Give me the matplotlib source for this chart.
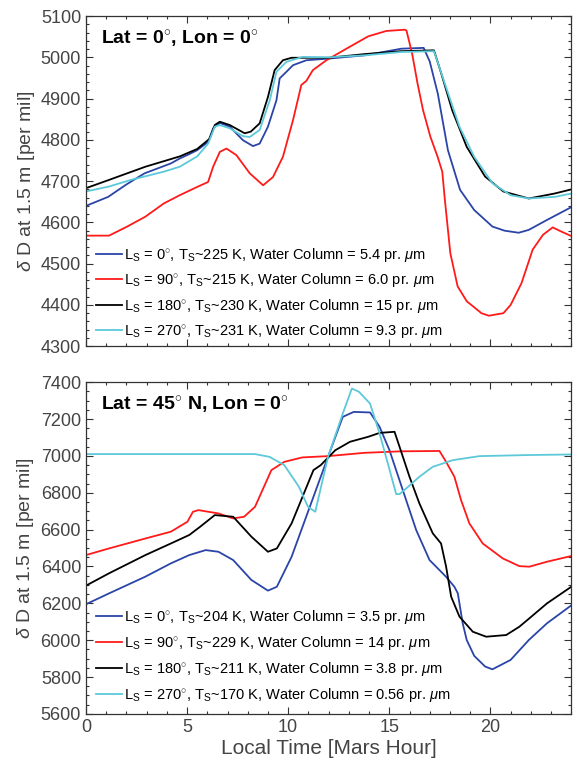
import matplotlib
matplotlib.use("Agg")
import matplotlib.pyplot as plt

plt.rcParams['font.family'] = ['Liberation Sans', 'DejaVu Sans']
plt.rcParams['mathtext.fontset'] = 'custom'
plt.rcParams['mathtext.rm'] = 'Liberation Sans'
plt.rcParams['mathtext.it'] = 'Liberation Sans:italic'
plt.rcParams['mathtext.bf'] = 'Liberation Sans:bold'

# ---- top panel: Lat = 0, Lon = 0 ----
top_x_ls0 = [0, 1.1, 2.0, 2.9, 4.2, 4.64, 5.0, 5.5, 6.04, 6.29, 6.62, 7.11, 7.77, 8.26, 8.59, 9.0, 9.42,
             9.58, 9.83, 10.24, 10.9, 12.0, 13.8, 15.6, 16.7, 17.0, 17.4, 17.9, 18.5, 19.2, 20.1, 20.7,
             21.4, 21.9, 22.8, 24]
top_y_ls0 = [4640, 4662, 4692, 4719, 4743, 4755, 4763, 4775, 4795, 4828, 4841, 4832, 4799, 4785, 4791, 4832,
             4896, 4949, 4961, 4981, 4993, 4997, 5005, 5021, 5023, 4990, 4912, 4775, 4679, 4630, 4590,
             4580, 4575, 4582, 4606, 4637]

top_x_ls90 = [0, 1.14, 2.04, 2.94, 3.85, 4.64, 5.5, 6.04, 6.29, 6.62, 6.95, 7.44, 8.1, 8.76, 9.25, 9.74,
              10.24, 10.65, 10.9, 11.22, 11.89, 12.88, 13.96, 14.86, 15.77, 15.85, 16.13, 16.4, 16.67,
              17.03, 17.39, 17.62, 17.75, 18.02, 18.38, 18.83, 19.56, 19.92, 20.64, 21.0, 21.54, 22.09,
              22.6, 23.08, 23.5, 24]
top_y_ls90 = [4568, 4568, 4590, 4614, 4646, 4666, 4686, 4698, 4735, 4771, 4779, 4763, 4719, 4690, 4710, 4759,
              4848, 4933, 4943, 4969, 4993, 5021, 5051, 5064, 5067, 5065, 5009, 4936, 4872,
              4808, 4759, 4723, 4654, 4525, 4445, 4409, 4380, 4374, 4380, 4400, 4453, 4534,
              4570, 4588, 4578, 4567]

top_x_ls180 = [0, 1.14, 2.94, 4.64, 5.5, 6.12, 6.37, 6.62, 7.11, 7.85, 8.15, 8.59, 9.0, 9.33, 9.74, 10.17,
               12.0, 13.8, 15.6, 17.21, 17.57, 18.11, 18.83, 19.74, 20.64, 21.9, 23.17, 24]
top_y_ls180 = [4683, 4703, 4735, 4760, 4778, 4803, 4836, 4844, 4836, 4816, 4820, 4840, 4904, 4969, 4993, 4999,
               4999, 5008, 5015, 5017, 4961, 4872, 4783, 4711, 4675, 4658, 4670, 4680]

top_x_ls270 = [0, 1.14, 2.22, 3.85, 4.64, 5.5, 6.04, 6.37, 6.62, 7.11, 7.77, 8.1, 8.59, 9.09, 9.42, 9.91,
               10.7, 12.0, 13.8, 15.6, 17.21, 17.75, 18.47, 19.2, 20.1, 21.0, 21.9, 23.2, 24]
top_y_ls270 = [4675, 4687, 4703, 4723, 4735, 4760, 4791, 4832, 4836, 4828, 4809, 4807, 4824, 4896, 4965, 4989,
               5001, 5000, 5005, 5013, 5015, 4936, 4832, 4759, 4695, 4666, 4658, 4662, 4670]

top_labels = [r'L$_\mathrm{S}$ = 0$^{\circ}$, T$_\mathrm{S}$~225 K, Water Column = 5.4 pr. $\mu$m',
              r'L$_\mathrm{S}$ = 90$^{\circ}$, T$_\mathrm{S}$~215 K, Water Column = 6.0 pr. $\mu$m',
              r'L$_\mathrm{S}$ = 180$^{\circ}$, T$_\mathrm{S}$~230 K, Water Column = 15 pr. $\mu$m',
              r'L$_\mathrm{S}$ = 270$^{\circ}$, T$_\mathrm{S}$~231 K, Water Column = 9.3 pr. $\mu$m']

# ---- bottom panel: Lat = 45 N, Lon = 0 ----
bot_x_ls0 = [0, 1.14, 2.94, 4.2, 5.11, 5.92, 6.55, 7.28, 8.18, 9.0, 9.44, 10.17, 11.07, 11.97, 12.7, 13.24,
             14.05, 14.52, 15.01, 15.67, 16.33, 16.99, 17.81, 18.22, 18.39, 18.63, 18.83, 19.2, 19.74, 20.1,
             21.0, 21.9, 22.8, 24]
bot_y_ls0 = [6195, 6254, 6345, 6417, 6462, 6489, 6480, 6435, 6327, 6269, 6290, 6453, 6724, 6995, 7212, 7239,
             7236, 7158, 7031, 6814, 6598, 6435, 6344, 6290, 6254, 6092, 6001, 5915, 5857, 5842,
             5893, 6001, 6092, 6189]

bot_x_ls90 = [0, 1.14, 2.94, 4.2, 5.02, 5.29, 5.56, 6.55, 7.28, 7.82, 8.36, 9.17, 9.81, 10.7, 11.97, 13.78,
              15.58, 17.48, 17.81, 18.22, 18.55, 18.96, 19.62, 20.61, 21.43, 21.93, 22.8, 24]
bot_y_ls90 = [6462, 6498, 6552, 6589, 6643, 6697, 6706, 6688, 6661, 6670, 6724, 6923, 6968, 6992, 6999, 7017,
              7025, 7027, 6968, 6887, 6760, 6634, 6525, 6444, 6402, 6399, 6426, 6457]

bot_x_ls180 = [0, 1.14, 2.94, 4.2, 5.11, 5.65, 6.37, 7.28, 8.18, 9.0, 9.44, 10.17, 11.25, 11.61, 12.33,
               13.06, 13.96, 14.52, 15.26, 15.51, 16.0, 16.49, 17.15, 17.56, 17.81, 18.06, 18.47, 19.13,
               19.79, 20.78, 21.43, 21.93, 22.8, 24]
bot_y_ls180 = [6296, 6363, 6462, 6525, 6571, 6616, 6679, 6670, 6562, 6480, 6498, 6634, 6923, 6950, 7031,
               7077, 7104, 7125, 7131, 7049, 6887, 6742, 6580, 6525, 6399, 6236, 6128, 6046,
               6019, 6028, 6073, 6119, 6200, 6290]

bot_x_ls270 = [0, 4, 8.36, 9.08, 9.81, 10.53, 10.98, 11.34, 11.97, 12.7, 13.15, 13.5, 14.05, 14.52, 14.93,
               15.34, 15.51, 15.84, 16.49, 17.15, 18.14, 19.46, 21.93, 24]
bot_y_ls270 = [7010, 7010, 7010, 6995, 6950, 6833, 6724, 6697, 6995, 7230, 7366, 7348, 7284, 7122, 6959,
               6793, 6793, 6824, 6887, 6941, 6977, 6999, 7005, 7008]

bot_labels = [r'L$_\mathrm{S}$ = 0$^{\circ}$, T$_\mathrm{S}$~204 K, Water Column = 3.5 pr. $\mu$m',
              r'L$_\mathrm{S}$ = 90$^{\circ}$, T$_\mathrm{S}$~229 K, Water Column = 14 pr. $\mu$m',
              r'L$_\mathrm{S}$ = 180$^{\circ}$, T$_\mathrm{S}$~211 K, Water Column = 3.8 pr. $\mu$m',
              r'L$_\mathrm{S}$ = 270$^{\circ}$, T$_\mathrm{S}$~170 K, Water Column = 0.56 pr. $\mu$m']

colors = ['#2a44a8', '#ff1a1a', '#000000', '#5cc9da']
grey = '#444444'


def style_axes(ax, ylim, major, minor):
    ax.set_xlim(0, 24)
    ax.set_ylim(*ylim)
    ax.set_xticks([0, 5, 10, 15, 20])
    ax.set_xticks(range(0, 25), minor=True)
    ax.set_yticks(range(ylim[0], ylim[1] + 1, major))
    ax.set_yticks(range(ylim[0], ylim[1] + 1, minor), minor=True)
    ax.tick_params(which='both', direction='in', top=True, right=True, colors='#333333',
                   labelcolor=grey, labelsize=13, width=0.8)
    ax.tick_params(which='major', length=5)
    ax.tick_params(which='minor', length=2.5)
    for s in ax.spines.values():
        s.set_color('#333333')
        s.set_linewidth(0.9)
    ax.set_ylabel(r'$\delta$ D at 1.5 m [per mil]', fontsize=14, color=grey, labelpad=3)


fig = plt.figure(figsize=(5.73, 7.66), dpi=100)

ax1 = fig.add_axes([0.150, 0.548, 0.847, 0.431])
top_series = [(top_x_ls0, top_y_ls0), (top_x_ls90, top_y_ls90),
              (top_x_ls180, top_y_ls180), (top_x_ls270, top_y_ls270)]
for (x, y), c, lab in zip(top_series, colors, top_labels):
    ax1.plot(x, y, color=c, lw=1.3, label=lab)
style_axes(ax1, (4300, 5100), 100, 20)
ax1.set_xticklabels([])
ax1.text(0.03, 0.93, r'Lat = 0$^{\circ}$, Lon = 0$^{\circ}$', transform=ax1.transAxes,
         fontsize=14, fontweight='bold', va='center', ha='left')
ax1.legend(loc='lower left', bbox_to_anchor=(0.0, -0.012), frameon=False, fontsize=10.5,
           handlelength=1.8, handletextpad=0.1, labelspacing=0.5, borderaxespad=0.3)

ax2 = fig.add_axes([0.150, 0.068, 0.847, 0.433])
bot_series = [(bot_x_ls0, bot_y_ls0), (bot_x_ls90, bot_y_ls90),
              (bot_x_ls180, bot_y_ls180), (bot_x_ls270, bot_y_ls270)]
for (x, y), c, lab in zip(bot_series, colors, bot_labels):
    ax2.plot(x, y, color=c, lw=1.3, label=lab)
style_axes(ax2, (5600, 7400), 200, 50)
ax2.set_xlabel('Local Time [Mars Hour]', fontsize=15, color=grey, labelpad=2)
ax2.text(0.03, 0.93, r'Lat = 45$^{\circ}$ N, Lon = 0$^{\circ}$', transform=ax2.transAxes,
         fontsize=14, fontweight='bold', va='center', ha='left')
ax2.legend(loc='lower left', bbox_to_anchor=(0.0, 0.0), frameon=False, fontsize=10.5,
           handlelength=1.8, handletextpad=0.1, labelspacing=0.55, borderaxespad=0.3)

plt.savefig('out.png', dpi=100)
plt.close()
